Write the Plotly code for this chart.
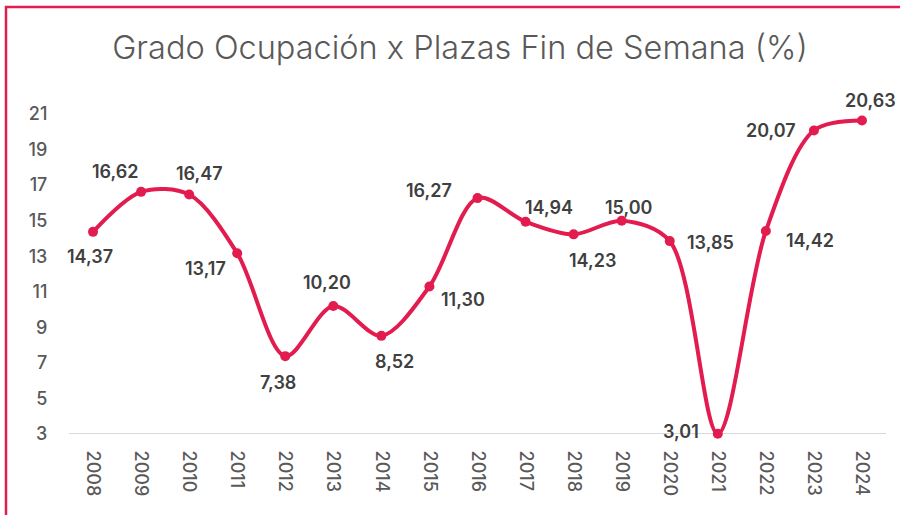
import plotly.graph_objects as go

years = ["2008", "2009", "2010", "2011", "2012", "2013", "2014", "2015", "2016",
         "2017", "2018", "2019", "2020", "2021", "2022", "2023", "2024"]
values = [14.37, 16.62, 16.47, 13.17, 7.38, 10.20, 8.52, 11.30, 16.27,
          14.94, 14.23, 15.00, 13.85, 3.01, 14.42, 20.07, 20.63]
y_ticks = [3, 5, 7, 9, 11, 13, 15, 17, 19, 21]

# label offsets (pixels) per point: (xshift, yshift)
offsets = [(-3, -25), (-26, 20), (10, 21), (-32, -15), (-7, -26), (-6, 24),
           (13, -26), (34, -13), (-49, 8), (23, 14), (19, -26), (7, 13),
           (41, -1), (-37, 2), (44, -10), (-43, 0), (9, 20)]

red = "#E31C4F"
W, H = 900, 515
L, T = 69, 114
PW, PH = 817, 320
R = W - L - PW
B = H - T - PH

fig = go.Figure()
fig.add_trace(go.Scatter(
    x=years, y=values, mode="lines+markers",
    line=dict(color=red, width=4, shape="spline", smoothing=0.9),
    marker=dict(color=red, size=10),
    hoverinfo="skip", showlegend=False, cliponaxis=False,
))

for i, (v, (dx, dy)) in enumerate(zip(values, offsets)):
    fig.add_annotation(
        x=i, y=v, xref="x", yref="y", text=f"{v:.2f}".replace(".", ","),
        showarrow=False, xshift=dx, yshift=dy,
        font=dict(family="Inter", size=18, color="#404040", weight=600),
    )

fig.add_shape(type="rect", xref="paper", yref="paper",
              x0=(6 - L) / PW, x1=2, y0=-2, y1=1 + (T - 7) / PH,
              line=dict(color=red, width=2.5), fillcolor="rgba(0,0,0,0)",
              layer="below")
fig.add_shape(type="line", xref="paper", yref="y", x0=0, x1=1, y0=3, y1=3,
              line=dict(color="#D9D9D9", width=2), layer="below")

fig.update_layout(
    width=W, height=H,
    margin=dict(l=L, r=R, t=T, b=B, autoexpand=False),
    paper_bgcolor="white", plot_bgcolor="white",
    title=dict(text="Grado Ocupación x Plazas Fin de Semana (%)",
               x=460 / W, xanchor="center", xref="container",
               y=1 - 48 / H, yanchor="middle",
               font=dict(family="Inter", size=32.5, color="#595959", weight=300)),
    xaxis=dict(type="category", tickangle=90, showgrid=False, showline=False,
               zeroline=False, ticks="outside", ticklen=12, tickcolor="rgba(0,0,0,0)",
               tickfont=dict(family="Inter", size=18, color="#595959", weight=500),
               range=[-0.5, 16.5], automargin=False),
    yaxis=dict(range=[3, 21], tickvals=y_ticks, showgrid=False, zeroline=False,
               showline=False, ticks="outside", ticklen=17, tickcolor="rgba(0,0,0,0)",
               tickfont=dict(family="Inter", size=18, color="#595959", weight=500),
               automargin=False),
)

fig.write_html("out.html", config={"displayModeBar": False, "staticPlot": True},
               post_script="document.body.style.margin='0';document.body.style.overflow='hidden';")
